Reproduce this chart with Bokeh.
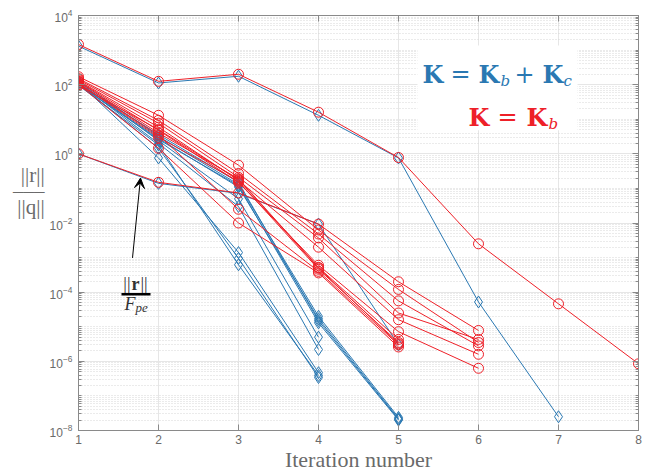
from bokeh.plotting import figure
from bokeh.models import (FixedTicker, LogAxis, LinearAxis, Label, Arrow, VeeHead,
                          BoxAnnotation, Range1d)
from bokeh.embed import file_html
from bokeh.resources import INLINE

# ---------------- data ----------------
iterations = [1, 2, 3, 4, 5, 6, 7, 8]
x_ticks = [1, 2, 3, 4, 5, 6, 7, 8]
y_major_exponents = [-8, -6, -4, -2, 0, 2, 4]

# K = Kb + Kc  (blue, diamonds)
blue_top = [1300, 112, 175, 13, 0.76, 5.2e-5, 2.5e-8]
blue_fpe = [1.0, 0.14, 0.072, 9.3e-3, 3.0e-6]
blue_a = [115, 0.76, 1.4e-3, 4.7e-7]
blue_b = [105, 1.45, 9.5e-4, 3.4e-7]
blue_c = [95, 1.8, 6.2e-4, 3.9e-7]
blue_d = [120, 2.4, 0.05, 5.0e-6]
blue_e = [110, 2.0, 0.03, 2.2e-6]
blue_f = [125, 3.2, 0.13, 2.0e-5, 2.4e-8]
blue_g = [100, 2.8, 0.11, 1.7e-5, 2.2e-8]
blue_h = [108, 3.6, 0.15, 1.5e-5, 2.1e-8]
blue_i = [98, 2.6, 0.12, 1.3e-5, 2.0e-8]

# K = Kb  (red, circles)
red_top = [1450, 125, 200, 16, 0.78, 2.5e-3, 4.6e-5, 8.5e-7]
red_fpe = [1.0, 0.15, 0.074, 9.3e-3, 2.0e-4, 7.8e-6]
red_a = [170, 13, 0.47, 6.3e-3, 1.2e-4, 3.5e-6]
red_b = [150, 9.3, 0.27, 4.8e-3, 5.6e-5, 2.8e-6]
red_c = [140, 7.7, 0.21, 3.7e-3, 2.5e-5, 4.3e-6]
red_d = [130, 5.9, 0.17, 2.0e-3, 1.6e-5, 1.6e-6]
red_e = [125, 4.8, 0.15, 6.0e-4, 7.2e-6, 6.3e-7]
red_f = [120, 4.0, 0.19, 5.2e-4, 4.3e-6]
red_g = [110, 3.0, 0.16, 4.6e-4, 3.5e-6]
red_h = [105, 3.5, 0.025, 4.0e-4, 3.0e-6]
red_i = [100, 1.45, 0.01, 3.6e-4, 2.6e-6]
red_j = [95, 5.0, 0.18, 5.0e-4, 3.2e-6]

blue_series = [blue_top, blue_fpe, blue_a, blue_b, blue_c, blue_d, blue_e,
               blue_f, blue_g, blue_h, blue_i]
red_series = [red_top, red_fpe, red_a, red_b, red_c, red_d, red_e, red_f,
              red_g, red_h, red_i, red_j]

x_label = "Iteration number"
y_label = "||r||\n–––\n||q||\n \n \n \n "

BLUE = "#2a78b2"
RED = "#ee2028"
GRAY_TXT = "#6a6a6a"
AXIS_GRAY = "#8a8a8a"

# ---------------- figure ----------------
W, H = 651, 474
L, R, T, B = 78, 13, 15, 43
p = figure(width=W, height=H, x_range=Range1d(1, 8), y_range=Range1d(1e-8, 1e4),
           y_axis_type="log", output_backend="svg", toolbar_location=None,
           min_border_left=L, min_border_right=R, min_border_top=T, min_border_bottom=B)
p.background_fill_color = "white"
p.border_fill_color = "white"
p.outline_line_color = AXIS_GRAY

y_major = [10.0 ** e for e in y_major_exponents]
y_minor = [k * 10.0 ** e for e in range(-8, 4) for k in range(1, 10)
           if not (k == 1 and e in y_major_exponents)]
yticker = FixedTicker(ticks=y_major, minor_ticks=y_minor)
xticker = FixedTicker(ticks=x_ticks)

p.xaxis.ticker = xticker
p.yaxis.ticker = yticker

for ax in (p.xaxis[0], p.yaxis[0]):
    ax.axis_line_color = AXIS_GRAY
    ax.major_tick_line_color = AXIS_GRAY
    ax.minor_tick_line_color = AXIS_GRAY
    ax.major_tick_in = 6
    ax.major_tick_out = 0
    ax.minor_tick_in = 3
    ax.minor_tick_out = 0
    ax.major_label_text_color = GRAY_TXT
    ax.major_label_text_font = "Liberation Sans"
    ax.major_label_text_font_size = "12px"
    ax.axis_label_text_font = "Liberation Serif"
    ax.axis_label_text_font_style = "normal"
    ax.axis_label_text_color = GRAY_TXT
p.xaxis.minor_tick_line_color = None
p.xaxis.major_label_standoff = 4
p.yaxis.major_label_standoff = 6

p.xaxis.axis_label = x_label
p.xaxis.axis_label_text_font_size = "22px"
p.xaxis.axis_label_standoff = 0

p.yaxis.axis_label = y_label
p.yaxis.axis_label_text_font_size = "21px"
p.yaxis.axis_label_text_line_height = 0.66
p.yaxis.axis_label_standoff = 2
try:
    p.yaxis.axis_label_orientation = "horizontal"
except Exception:
    pass

# mirrored axes (box on), labels hidden
top_ax = LinearAxis(ticker=xticker, major_label_text_font_size="1px",
                    major_label_text_color=None,
                    major_tick_in=6, major_tick_out=0, minor_tick_line_color=None,
                    axis_line_color=AXIS_GRAY, major_tick_line_color=AXIS_GRAY,
                    major_label_standoff=0)
right_ax = LogAxis(ticker=yticker, major_label_text_font_size="1px",
                   major_label_text_color=None,
                   major_tick_in=6, major_tick_out=0, minor_tick_in=3, minor_tick_out=0,
                   axis_line_color=AXIS_GRAY, major_tick_line_color=AXIS_GRAY,
                   minor_tick_line_color=AXIS_GRAY, major_label_standoff=0)
p.add_layout(top_ax, "above")
p.add_layout(right_ax, "right")

p.xgrid.grid_line_color = "#e6e6e6"
p.ygrid.grid_line_color = "#e6e6e6"
p.ygrid.minor_grid_line_color = "#d6d6d6"
p.ygrid.minor_grid_line_dash = "1 2"

# ---------------- series ----------------
for s in blue_series:
    xs = iterations[:len(s)]
    p.line(xs, s, line_color=BLUE, line_width=1)
    p.scatter(xs, s, marker="diamond", size=12, fill_color=None, line_color=BLUE, line_width=1)
for s in red_series:
    xs = iterations[:len(s)]
    p.line(xs, s, line_color=RED, line_width=1)
    p.scatter(xs, s, marker="circle", size=10, fill_color=None, line_color=RED, line_width=1)

# ---------------- annotations ----------------
PX_X = (W - L - R) / 7.0
PX_Y = (H - T - B) / 12.0


def xd(px):
    return 1 + (px - L) / PX_X


def yd(py):
    return 10 ** (4 - (py - T) / PX_Y)


def lab(text, px, py, size, color, style="normal", align="left", baseline="middle",
        font="DejaVu Serif"):
    p.add_layout(Label(x=xd(px), y=yd(py), text=text, text_font=font,
                       text_font_size=f"{size}px", text_color=color, text_font_style=style,
                       text_align=align, text_baseline=baseline))


# white box behind the legend texts
p.add_layout(BoxAnnotation(left=xd(417), right=xd(577), top=yd(45), bottom=yd(130),
                           fill_color="white", fill_alpha=1.0, line_color=None))

# K = Kb + Kc (blue)
lab("K", 422, 74, 24, BLUE, "bold")
lab("=", 460, 74, 24, BLUE, align="center")
lab("K", 478, 74, 24, BLUE, "bold")
lab("b", 500, 81, 15, BLUE, "italic")
lab("+", 524, 74, 24, BLUE, align="center")
lab("K", 542, 74, 24, BLUE, "bold")
lab("c", 563, 81, 15, BLUE, "italic")

# K = Kb (red)
lab("K", 468, 117, 24, RED, "bold")
lab("=", 507, 117, 24, RED, align="center")
lab("K", 526, 117, 24, RED, "bold")
lab("b", 548, 124, 15, RED, "italic")

# ||r|| / F_pe annotation with arrow
p.add_layout(Arrow(end=VeeHead(size=10, fill_color="black", line_color="black"),
                   x_start=xd(132), y_start=yd(258), x_end=xd(140), y_end=yd(178),
                   line_color="black", line_width=1))
lab("||", 130, 284, 18, "#333333", align="right", font="Liberation Serif")
lab("r", 135, 284, 18, "#333333", "bold", align="center", font="Liberation Serif")
lab("||", 140, 284, 18, "#333333", align="left", font="Liberation Serif")
p.add_layout(Arrow(end=None, x_start=xd(121), y_start=yd(294.5), x_end=xd(150), y_end=yd(294.5),
                   line_color="black", line_width=2.5))
lab("F", 124, 304, 18, "#333333", "italic", font="Liberation Serif")
lab("pe", 135, 308, 13, "#333333", "italic", font="Liberation Serif")

open("out.html", "w").write(file_html(p, INLINE))
